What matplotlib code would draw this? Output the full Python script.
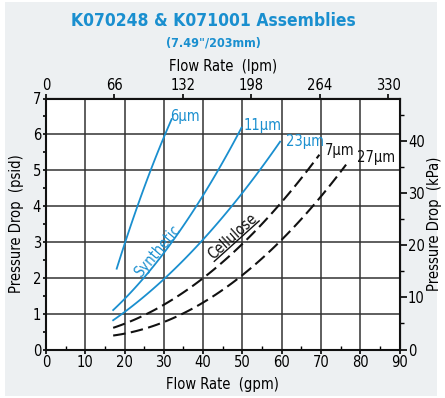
import matplotlib.pyplot as plt
import numpy as np
from matplotlib.patches import Rectangle
from matplotlib.ticker import MultipleLocator

plt.rcParams['font.family'] = ['DejaVu Sans']
plt.rcParams['font.stretch'] = 'condensed'

BLUE = '#1a8fcf'
GRID = '#333333'

# Flow rate (gpm) vs pressure drop (psid)
syn_6_gpm = [18.0, 20.4, 23.5, 26.6, 29.7, 32.0]
syn_6_psi = [2.32, 3.0, 4.0, 5.0, 6.0, 6.32]

syn_11_gpm = [17.1, 24.8, 32.0, 38.4, 43.9, 48.7, 49.8]
syn_11_psi = [1.09, 2.0, 3.0, 4.0, 5.0, 6.0, 6.17]

syn_23_gpm = [17.1, 19.3, 29.9, 39.2, 47.7, 54.9, 59.6]
syn_23_psi = [0.78, 1.0, 2.0, 3.0, 4.0, 5.0, 5.87]

cel_7_gpm = [17.1, 24.8, 39.2, 51.1, 59.6, 66.8, 69.6]
cel_7_psi = [0.55, 1.0, 2.0, 3.0, 4.0, 5.0, 5.51]

cel_27_gpm = [17.1, 20.0, 30.0, 34.1, 49.4, 59.6, 68.1, 75.0, 76.4]
cel_27_psi = [0.36, 0.45, 0.78, 1.0, 2.0, 3.0, 4.0, 5.0, 5.14]

lpm_ticks = [0, 66, 132, 198, 264, 330]
GPM_TO_LPM = 3.785
PSI_TO_KPA = 6.895


def smooth(x, y, n=60):
    # quadratic fit through the read points
    x = np.asarray(x)
    y = np.asarray(y)
    t = np.linspace(x[0], x[-1], n)
    coef = np.polyfit(x, y, 2)
    return t, np.polyval(coef, t)


fig = plt.figure(figsize=(4.45, 3.98), dpi=100, facecolor='white')
fig.patches.append(Rectangle((5 / 445, 2 / 398), 432 / 445, 394 / 398,
                             transform=fig.transFigure, facecolor='#edf0f2',
                             edgecolor='none', zorder=-10))
ax = fig.add_axes([46 / 445, 48.5 / 398, 353.5 / 445, 251 / 398])
ax.set_facecolor('white')

for xs, ys in [(syn_6_gpm, syn_6_psi), (syn_11_gpm, syn_11_psi), (syn_23_gpm, syn_23_psi)]:
    t, s = smooth(xs, ys)
    ax.plot(t, s, color=BLUE, lw=1.3, zorder=3)

for xs, ys in [(cel_7_gpm, cel_7_psi), (cel_27_gpm, cel_27_psi)]:
    t, s = smooth(xs, ys)
    ax.plot(t, s, color='#111111', lw=1.5, dashes=(6, 2.6), zorder=3)

ax.set_xlim(0, 90)
ax.set_ylim(0, 7)
ax.xaxis.set_major_locator(MultipleLocator(10))
ax.xaxis.set_minor_locator(MultipleLocator(5))
ax.yaxis.set_major_locator(MultipleLocator(1))
ax.yaxis.set_minor_locator(MultipleLocator(0.5))
ax.grid(True, which='major', color=GRID, lw=1.1, zorder=1)
ax.set_axisbelow(True)
for sp in ax.spines.values():
    sp.set_linewidth(1.5)
    sp.set_color('#111111')
ax.tick_params(axis='x', which='major', direction='out', length=3, width=1.2, labelsize=10.5, pad=1)
ax.tick_params(axis='x', which='minor', direction='in', length=3, width=1.0)
ax.tick_params(axis='y', which='both', direction='out', length=2.5, width=1.2, labelsize=10.5, pad=1)
ax.set_xlabel('Flow Rate  (gpm)', fontsize=10.5, labelpad=5)
ax.set_ylabel('Pressure Drop  (psid)', fontsize=10.5, labelpad=6)

top = ax.secondary_xaxis('top', functions=(lambda g: g * GPM_TO_LPM, lambda l: l / GPM_TO_LPM))
top.set_xticks(lpm_ticks)
top.tick_params(direction='out', length=3, width=1.2, labelsize=10.5, pad=1)
top.set_xlabel('Flow Rate  (lpm)', fontsize=10.5, labelpad=5)

right = ax.secondary_yaxis('right', functions=(lambda p: p * PSI_TO_KPA, lambda k: k / PSI_TO_KPA))
right.yaxis.set_major_locator(MultipleLocator(10))
right.yaxis.set_minor_locator(MultipleLocator(5))
right.tick_params(which='major', direction='out', length=5, width=1.2, labelsize=10.5, pad=1)
right.tick_params(which='minor', direction='out', length=3, width=1.0)
right.set_ylabel('Pressure Drop  (kPa)', fontsize=10.5, labelpad=2)

# curve labels
ax.text(31.6, 6.3, '6µm', color=BLUE, fontsize=10.5, va='bottom', ha='left')
ax.text(50.2, 6.05, '11µm', color=BLUE, fontsize=10.5, va='bottom', ha='left')
ax.text(61.1, 5.6, '23µm', color=BLUE, fontsize=10.5, va='bottom', ha='left')
ax.text(71.0, 5.35, '7µm', color='#111111', fontsize=10.5, va='bottom', ha='left')
ax.text(79.2, 5.15, '27µm', color='#111111', fontsize=10.5, va='bottom', ha='left')
ax.text(28.3, 2.75, 'Synthetic', color=BLUE, fontsize=10.5, rotation=50,
        ha='center', va='center', rotation_mode='anchor')

cel_x, cel_y, cel_rot = 42.5, 2.5, 42
cel = ax.text(cel_x, cel_y, 'Cellulose', color='#111111', fontsize=10.5, rotation=cel_rot,
              ha='left', va='baseline', rotation_mode='anchor')
# underline for "Cellulose"
fig.canvas.draw()
tmp = ax.text(0, 0, 'Cellulose', fontsize=10.5)
w_px = tmp.get_window_extent(fig.canvas.get_renderer()).width
tmp.remove()
x0, y0 = ax.transData.transform((cel_x, cel_y))
ang = np.deg2rad(cel_rot)
off = 2.0
ux0, uy0 = x0 + off * np.sin(ang), y0 - off * np.cos(ang)
ux1, uy1 = ux0 + w_px * np.cos(ang), uy0 + w_px * np.sin(ang)
p0 = ax.transData.inverted().transform((ux0, uy0))
p1 = ax.transData.inverted().transform((ux1, uy1))
ax.plot([p0[0], p1[0]], [p0[1], p1[1]], color='#111111', lw=1.0, zorder=4)

fig.text(213 / 445, 1 - 21 / 398, 'K070248 & K071001 Assemblies', color=BLUE,
         fontsize=12.5, fontweight='bold', ha='center', va='center')
fig.text(213 / 445, 1 - 43 / 398, '(7.49"/203mm)', color=BLUE,
         fontsize=9, fontweight='bold', ha='center', va='center')

fig.savefig('out.png', dpi=100, facecolor=fig.get_facecolor())
